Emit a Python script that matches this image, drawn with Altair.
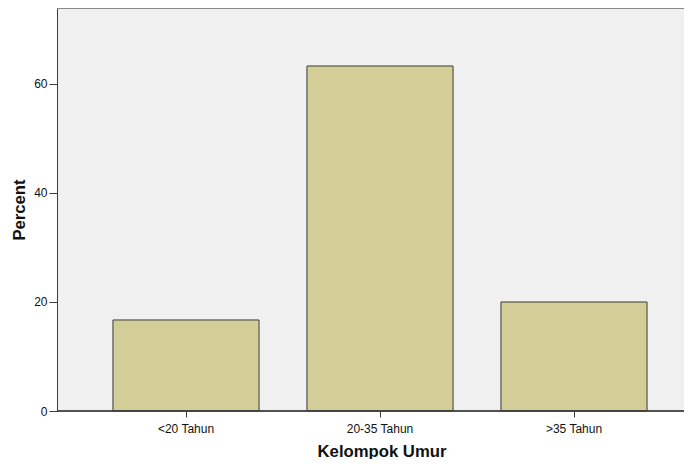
import altair as alt
import pandas as pd

categories = ["<20 Tahun", "20-35 Tahun", ">35 Tahun"]
percent = [16.7, 63.3, 20.0]
y_ticks = [0, 20, 40, 60]

df = pd.DataFrame({"Kelompok Umur": categories, "Percent": percent})

W, H = 627, 403
FONT = "Liberation Sans"
AXIS_COLOR = "#3a3a3a"

bars = alt.Chart(df).mark_bar(
    fill="#d3ce97", stroke=AXIS_COLOR, strokeWidth=1
).encode(
    x=alt.X(
        "Kelompok Umur:N",
        sort=categories,
        scale=alt.Scale(range=[32, 614], paddingInner=0.247, paddingOuter=0.1235),
        axis=alt.Axis(
            title="Kelompok Umur",
            labelAngle=0,
            labelFont=FONT,
            labelFontSize=12,
            labelColor="#111111",
            labelPadding=6,
            tickSize=6,
            tickColor=AXIS_COLOR,
            domain=False,
            titleFont=FONT,
            titleFontSize=16.7,
            titleFontWeight="bold",
            titleColor="#111111",
            titleX=324.5,
            titleY=45,
            titleBaseline="alphabetic",
        ),
    ),
    y=alt.Y(
        "Percent:Q",
        scale=alt.Scale(domain=[0, 73.94], nice=False, zero=True),
        axis=alt.Axis(
            title="Percent",
            values=y_ticks,
            grid=False,
            labelFont=FONT,
            labelFontSize=12,
            labelColor="#111111",
            labelPadding=2,
            tickSize=8,
            tickColor=AXIS_COLOR,
            domainColor=AXIS_COLOR,
            titleFont=FONT,
            titleFontSize=16.7,
            titleFontWeight="bold",
            titleColor="#111111",
            titleX=-38,
            titleBaseline="middle",
        ),
    ),
)

top_border = alt.Chart(df).mark_rule(color="#8a8a8a", strokeWidth=2).encode(
    x=alt.value(0), x2=alt.value(W), y=alt.value(0)
)

bottom_axis_line = alt.Chart(df).mark_rule(color=AXIS_COLOR, strokeWidth=1).encode(
    x=alt.value(0), x2=alt.value(W), y=alt.value(H)
)

chart = alt.layer(bars, top_border, bottom_axis_line).properties(
    width=W,
    height=H,
    autosize=alt.AutoSizeParams(type="none"),
    padding={"left": 49, "top": 0, "right": 0, "bottom": 48},
    background="white",
).configure_view(stroke=None, fill="#f0f0f0")

chart.save("out.html", embed_options={"renderer": "svg", "actions": False})
